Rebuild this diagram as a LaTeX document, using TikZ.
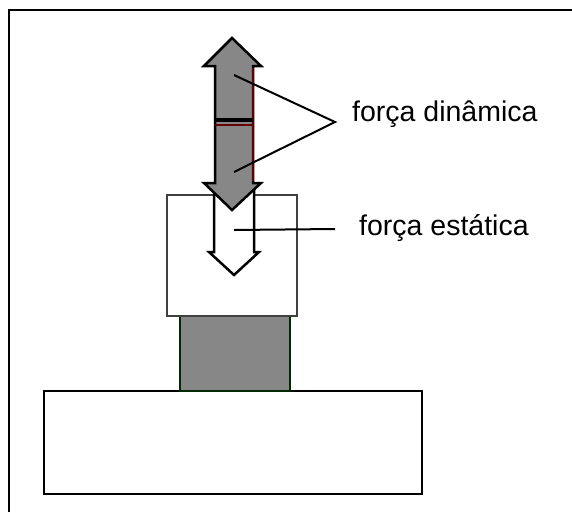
\documentclass[tikz,border=0pt]{standalone}
\usepackage{fontspec}
\setmainfont{Liberation Sans}
\begin{document}
\begin{tikzpicture}[x=1pt,y=-1pt,
  frameline/.style={line width=1.5pt,black},
  boxline/.style={line width=2.5pt,draw=black,fill=white},
  grayfill/.style={fill=black!47},
  lbl/.style={font=\fontsize{28.5}{32}\selectfont,anchor=west,inner sep=0pt},
  leader/.style={line width=2pt,black}]
\useasboundingbox (0,0) rectangle (572,512);
% frame (left and top only)
\draw[frameline] (9,512) -- (9,10) -- (572,10);
% base block
\draw[boxline] (44,391) rectangle (422,494);
% column
\draw[line width=2.5pt,draw=black!60!green!40!black,grayfill] (180,316) rectangle (290,391);
% upper block
\draw[line width=2.5pt,draw=black!75,fill=white] (167,195) rectangle (297,316);
% static white arrow
\draw[line width=2.5pt,fill=white] (214,186) -- (214,252) -- (209,252) -- (234,275) -- (259,252) -- (254,252) -- (254,186);
% dynamic double arrow
\draw[line width=2.5pt,grayfill] (232,38) -- (261,66) -- (253,66) -- (253,183) -- (261,183) -- (232,210) -- (204,183) -- (215,183) -- (215,66) -- (204,66) -- cycle;
\draw[line width=2pt,red!40!black] (253,68) -- (253,181);
\draw[line width=3.5pt] (215,120) -- (253,120);
\draw[line width=2pt,red!40!black] (215,125) -- (253,125);
% labels
\node[lbl] (din) at (352,114) {força dinâmica};
\node[lbl] (est) at (359,228) {força estática};
\coordinate (apex) at (335,122);
\coordinate (d1) at (234,75);
\coordinate (d2) at (234,172);
\coordinate (s1) at (234,230);
\coordinate (s2) at (335,229);
\draw[leader] (d1) -- (apex) -- (d2);
\draw[leader] (s1) -- (s2);
\end{tikzpicture}
\end{document}
